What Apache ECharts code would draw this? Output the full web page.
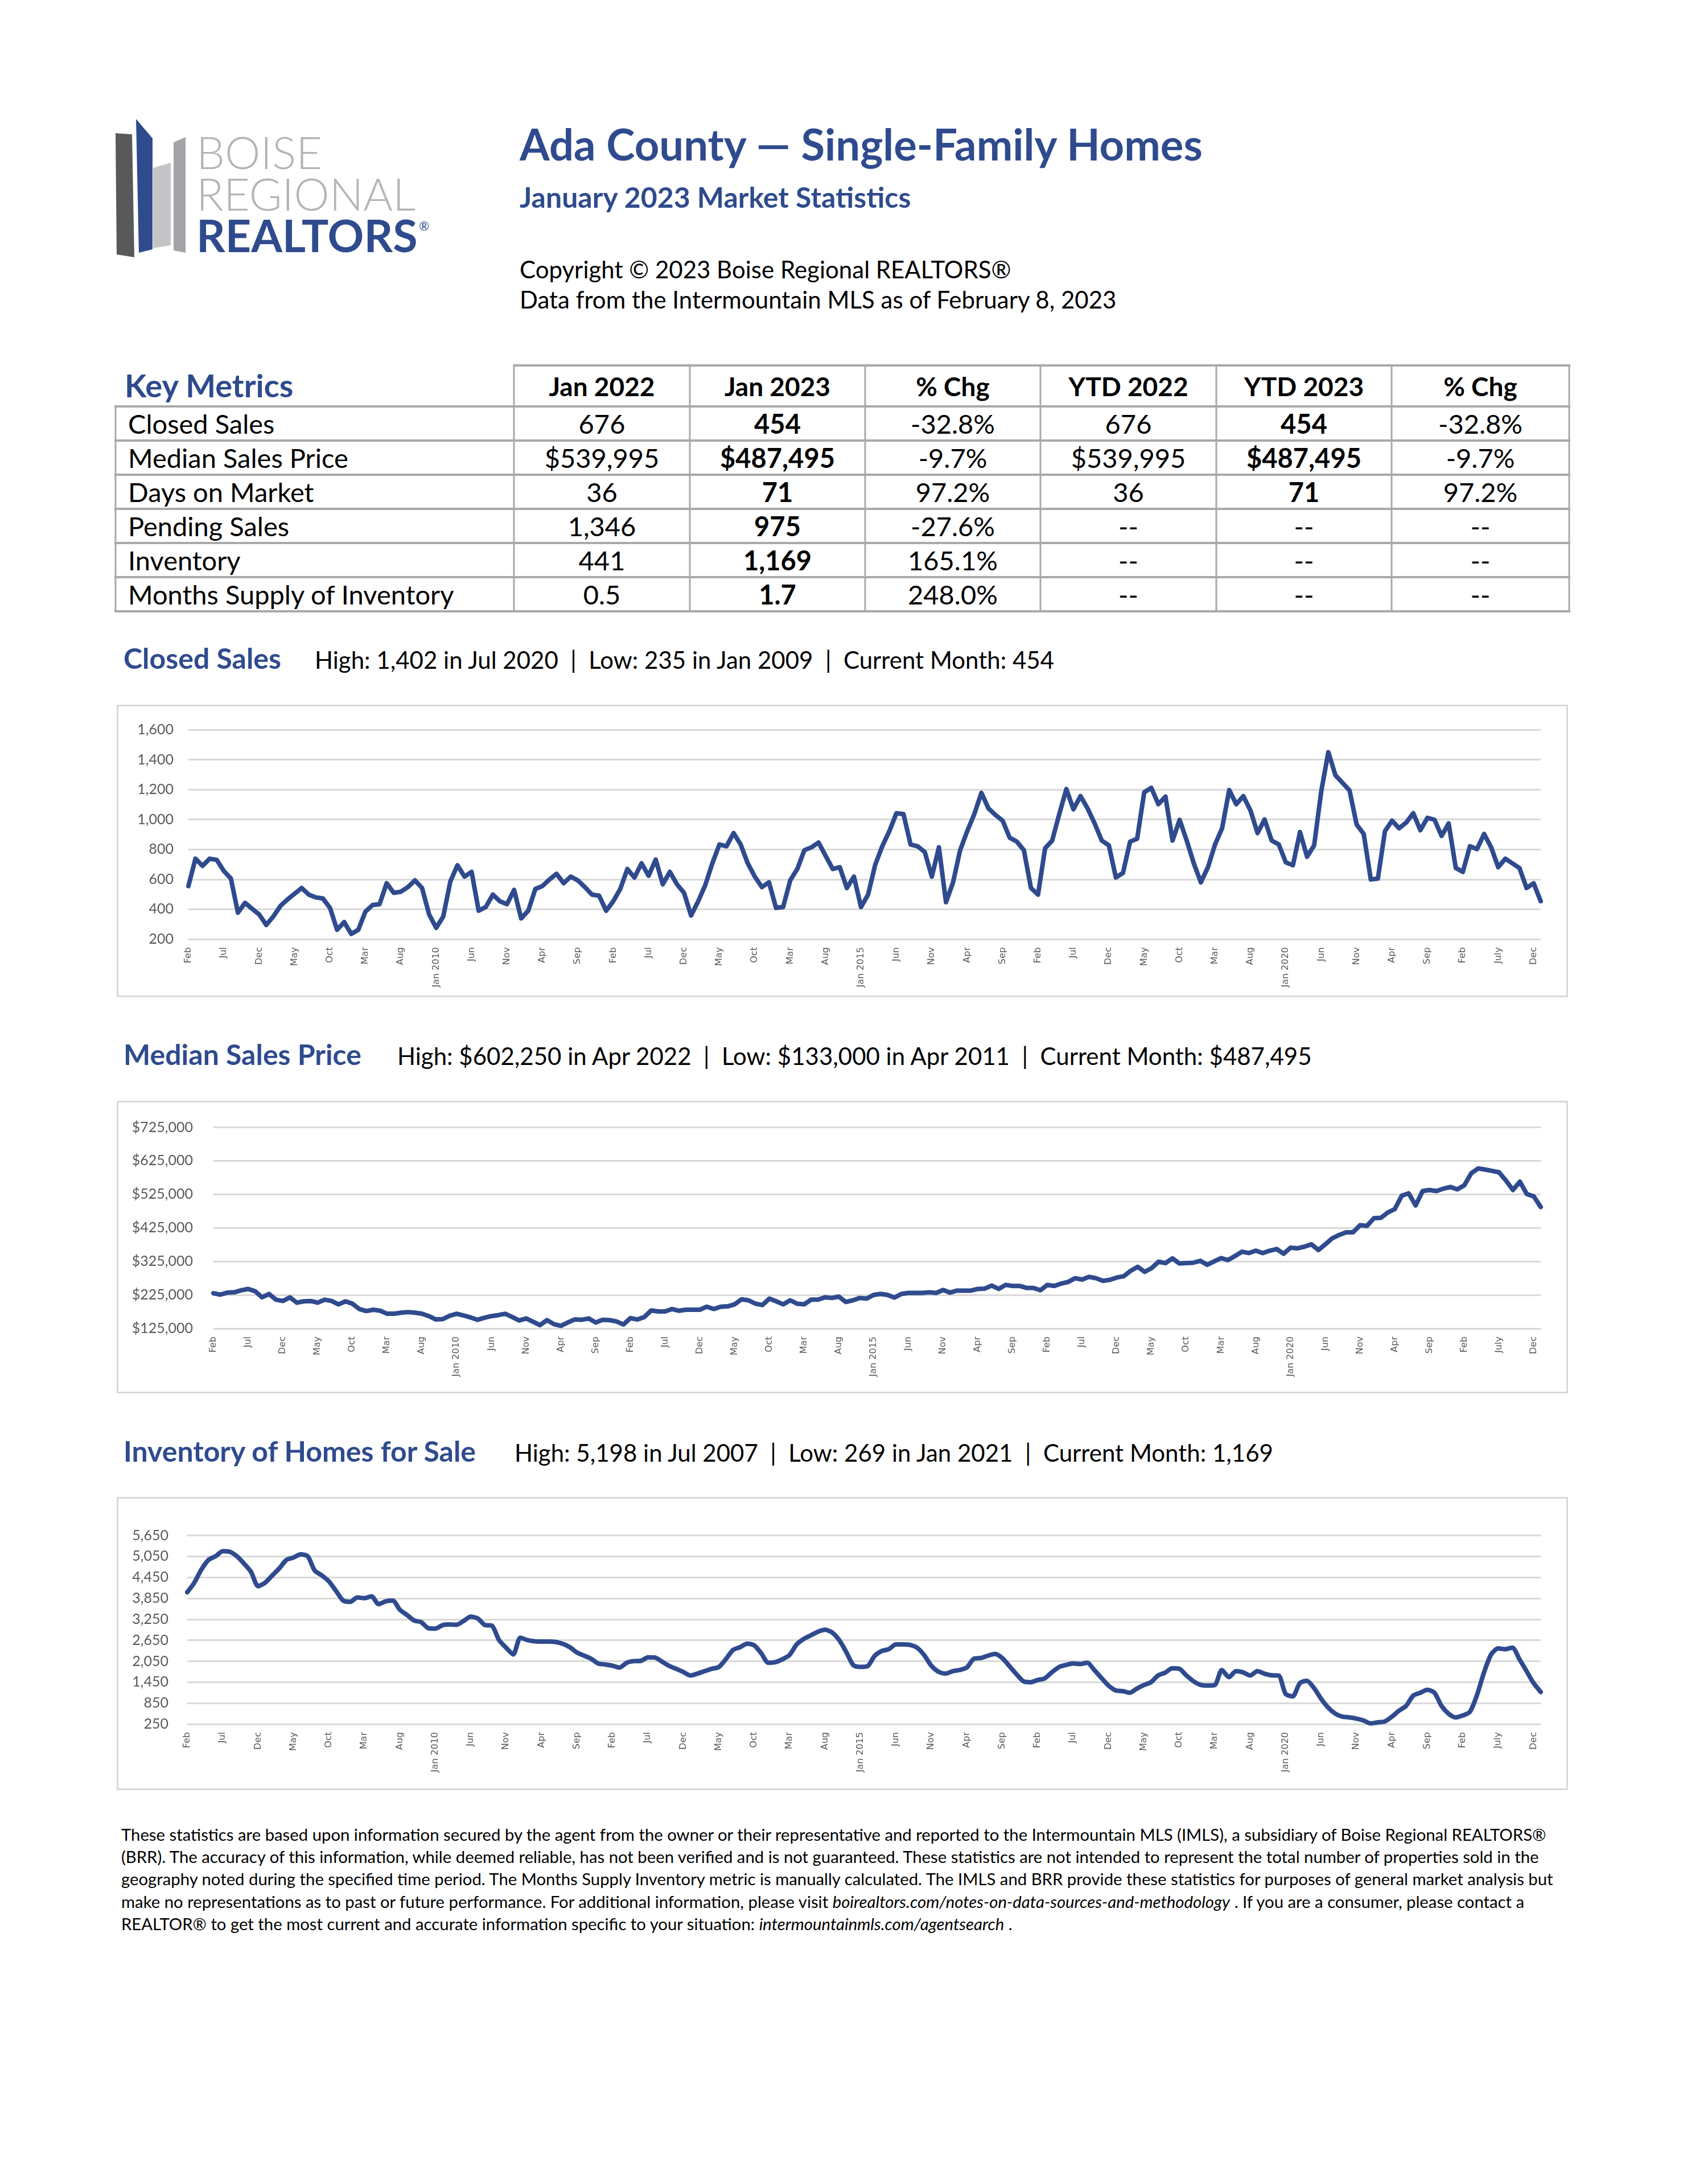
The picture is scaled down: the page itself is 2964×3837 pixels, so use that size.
<!DOCTYPE html>
<html>
<head>
<meta charset="utf-8">
<title>Ada County — Single-Family Homes, January 2023</title>
<script src="https://cdn.jsdelivr.net/npm/echarts@6/dist/echarts.min.js"></script>
<style>
  html, body { margin: 0; padding: 0; background: #fff; }
  #page { position: relative; width: 2964px; height: 3837px; overflow: hidden; font-family: Lato, sans-serif; }
  #static { position: absolute; left: 0; top: 0; }
  .chart { position: absolute; }
</style>
</head>
<body>
<div id="page">
  <svg id="static" width="2964" height="3837" xmlns="http://www.w3.org/2000/svg"></svg>
  <div id="closedChart" class="chart" style="left:208px;top:1241px;width:2544px;height:508px"></div>
  <div id="priceChart" class="chart" style="left:208px;top:1937px;width:2544px;height:508px"></div>
  <div id="inventoryChart" class="chart" style="left:208px;top:2633px;width:2544px;height:509px"></div>
</div>
<script>
// --- data (Feb 2007 .. Jan 2023, one value per month) ---
const tickLabels = ['Feb', 'Jul', 'Dec', 'May', 'Oct', 'Mar', 'Aug', 'Jan 2010', 'Jun', 'Nov', 'Apr', 'Sep',
    'Feb', 'Jul', 'Dec', 'May', 'Oct', 'Mar', 'Aug', 'Jan 2015', 'Jun', 'Nov', 'Apr', 'Sep',
    'Feb', 'Jul', 'Dec', 'May', 'Oct', 'Mar', 'Aug', 'Jan 2020', 'Jun', 'Nov', 'Apr', 'Sep',
    'Feb', 'July', 'Dec']

const closedSales = [
    555, 738, 690, 738, 730, 656, 605, 377, 443, 403, 365, 295,
    352, 422, 466, 504, 542, 498, 479, 472, 409, 263, 314, 235,
    263, 384, 428, 434, 574, 510, 517, 548, 593, 542, 365, 276,
    352, 586, 694, 618, 650, 390, 415, 498, 453, 434, 529, 339,
    390, 536, 555, 599, 637, 574, 618, 593, 548, 498, 491, 390,
    453, 536, 669, 612, 707, 624, 732, 567, 650, 567, 510, 358,
    453, 561, 707, 833, 821, 909, 833, 707, 618, 548, 580, 409,
    415, 593, 669, 795, 814, 846, 757, 669, 681, 542, 618, 415,
    498, 697, 821, 922, 1042, 1036, 833, 821, 783, 618, 814, 447,
    580, 795, 922, 1036, 1178, 1074, 1030, 992, 878, 852, 795, 542,
    498, 808, 859, 1036, 1203, 1068, 1156, 1074, 973, 859, 827, 612,
    643, 852, 871, 1182, 1211, 1102, 1153, 859, 998, 859, 707, 580,
    681, 833, 941, 1197, 1102, 1156, 1061, 909, 1000, 859, 833, 713,
    694, 916, 751, 827, 1188, 1450, 1296, 1245, 1194, 966, 903, 599,
    605, 922, 992, 941, 979, 1042, 928, 1011, 998, 890, 973, 676,
    650, 821, 802, 903, 814, 681, 738, 707, 675, 542, 574, 454
]

const medianPrice = [
    230000, 226000, 232000, 233000, 239000, 243000, 236000, 218000, 228000, 211000, 207000, 218000,
    202000, 206000, 207000, 202000, 211000, 207000, 197000, 206000, 199000, 183000, 177000, 181000,
    178000, 169000, 169000, 172000, 174000, 172000, 169000, 162000, 152000, 153000, 163000, 169000,
    164000, 158000, 151000, 157000, 162000, 165000, 169000, 159000, 149000, 155000, 145000, 135000,
    150000, 138000, 133000, 143000, 152000, 151000, 155000, 143000, 151000, 150000, 146000, 137000,
    156000, 152000, 159000, 179000, 176000, 176000, 183000, 178000, 181000, 181000, 181000, 190000,
    183000, 190000, 191000, 197000, 212000, 209000, 199000, 195000, 214000, 206000, 197000, 209000,
    199000, 197000, 211000, 211000, 218000, 216000, 220000, 204000, 209000, 216000, 214000, 225000,
    228000, 225000, 217000, 228000, 231000, 231000, 231000, 233000, 231000, 240000, 232000, 238000,
    238000, 238000, 243000, 244000, 253000, 243000, 255000, 252000, 252000, 246000, 246000, 239000,
    255000, 252000, 259000, 264000, 275000, 271000, 279000, 275000, 267000, 270000, 277000, 281000,
    297000, 309000, 294000, 305000, 324000, 320000, 334000, 319000, 320000, 321000, 327000, 315000,
    325000, 335000, 329000, 341000, 354000, 350000, 357000, 350000, 357000, 362000, 348000, 366000,
    364000, 369000, 376000, 359000, 376000, 394000, 404000, 412000, 412000, 433000, 431000, 454000,
    455000, 471000, 481000, 521000, 528000, 492000, 535000, 538000, 535000, 542000, 547000, 539995,
    552000, 588000, 602250, 599000, 595000, 591000, 566000, 538000, 563000, 526000, 519000, 487495
]

const inventory = [
    4024, 4298, 4675, 4949, 5052, 5198, 5180, 5052, 4846, 4607, 4196, 4298,
    4504, 4709, 4949, 5018, 5107, 5052, 4641, 4504, 4333, 4059, 3785, 3750,
    3874, 3853, 3908, 3682, 3764, 3785, 3524, 3374, 3216, 3168, 2997, 2983,
    3079, 3100, 3093, 3202, 3326, 3271, 3086, 3065, 2654, 2435, 2243, 2723,
    2654, 2620, 2613, 2613, 2600, 2545, 2449, 2298, 2209, 2120, 1983, 1956,
    1921, 1867, 2004, 2052, 2058, 2161, 2154, 2038, 1915, 1832, 1743, 1641,
    1695, 1764, 1832, 1880, 2106, 2367, 2449, 2552, 2504, 2278, 2004, 2024,
    2106, 2230, 2531, 2689, 2791, 2894, 2949, 2874, 2654, 2312, 1935, 1887,
    1908, 2200, 2340, 2394, 2531, 2531, 2517, 2435, 2223, 1921, 1750, 1695,
    1764, 1798, 1867, 2120, 2141, 2209, 2257, 2141, 1915, 1682, 1476, 1449,
    1510, 1558, 1730, 1880, 1942, 1983, 1969, 2004, 1798, 1572, 1353, 1216,
    1195, 1147, 1264, 1367, 1449, 1641, 1723, 1846, 1832, 1641, 1476, 1373,
    1353, 1367, 1798, 1593, 1764, 1730, 1641, 1764, 1695, 1647, 1641, 1113,
    1045, 1421, 1490, 1284, 976, 723, 551, 462, 442, 408, 353, 269,
    300, 325, 462, 634, 771, 1065, 1147, 1230, 1147, 771, 545, 441,
    497, 599, 1079, 1730, 2243, 2415, 2394, 2435, 2106, 1764, 1421, 1169
]

const tableHeaders = ['Jan 2022', 'Jan 2023', '% Chg', 'YTD 2022', 'YTD 2023', '% Chg']
const metricNames = ['Closed Sales', 'Median Sales Price', 'Days on Market', 'Pending Sales', 'Inventory', 'Months Supply of Inventory']
const metricValues = [
    ['676', '454', '-32.8%', '676', '454', '-32.8%'],
    ['$539,995', '$487,495', '-9.7%', '$539,995', '$487,495', '-9.7%'],
    ['36', '71', '97.2%', '36', '71', '97.2%'],
    ['1,346', '975', '-27.6%', '--', '--', '--'],
    ['441', '1,169', '165.1%', '--', '--', '--'],
    ['0.5', '1.7', '248.0%', '--', '--', '--']
]

const chartTitles = ['Closed Sales', 'Median Sales Price', 'Inventory of Homes for Sale']
const chartStats = [
    'High: 1,402 in Jul 2020  |  Low: 235 in Jan 2009  |  Current Month: 454',
    'High: $602,250 in Apr 2022  |  Low: $133,000 in Apr 2011  |  Current Month: $487,495',
    'High: 5,198 in Jul 2007  |  Low: 269 in Jan 2021  |  Current Month: 1,169'
]

const footerLines = [
    'These statistics are based upon information secured by the agent from the owner or their representative and reported to the Intermountain MLS (IMLS), a subsidiary of Boise Regional REALTORS®',
    '(BRR). The accuracy of this information, while deemed reliable, has not been verified and is not guaranteed. These statistics are not intended to represent the total number of properties sold in the',
    'geography noted during the specified time period. The Months Supply Inventory metric is manually calculated. The IMLS and BRR provide these statistics for purposes of general market analysis but',
    'make no representations as to past or future performance. For additional information, please visit [boirealtors.com/notes-on-data-sources-and-methodology] . If you are a consumer, please contact a',
    'REALTOR® to get the most current and accurate information specific to your situation: [intermountainmls.com/agentsearch] .'
]

const BLUE = '#2f4b8e'
const monthNames = ['Jan', 'Feb', 'Mar', 'Apr', 'May', 'Jun', 'Jul', 'Aug', 'Sep', 'Oct', 'Nov', 'Dec']
const months = closedSales.map((_, i) => monthNames[(i + 1) % 12] + ' ' + (2007 + Math.floor((i + 1) / 12)))

// --- static page: logo, headings, table, footer ---
function txt(x, y, str, size, o = {}) {
    return `<text x="${x}" y="${y}" font-family="Lato, sans-serif" font-size="${size}" font-weight="${o.w || 400}"` +
        ` fill="${o.c || '#000'}" text-anchor="${o.a || 'start'}" style="white-space:pre">${str}</text>`
}

function buildStatic() {
    let s = ''
    // logo bars
    s += '<polygon points="203,234 232,236 236,452 205,447" fill="#58595b"/>'
    s += '<polygon points="239,209 268,243 268,438 244,444" fill="' + BLUE + '"/>'
    s += '<polygon points="269,295 300,286 300,431 269,436" fill="#c3c4c6"/>'
    s += '<polygon points="305,250 326,241 326,444 305,440" fill="#a2a4a7"/>'
    s += txt(345, 297, 'BOISE', 79, { w: 300, c: '#b3b4b7' })
    s += txt(345, 370, 'REGIONAL', 79, { w: 300, c: '#b3b4b7' })
    s += txt(345, 443, 'REALTORS', 79, { w: 700, c: BLUE })
    s += txt(736, 405, '®', 22, { c: BLUE })

    // headings
    s += txt(913, 282, 'Ada County — Single-Family Homes', 76, { w: 700, c: BLUE })
    s += txt(913, 365, 'January 2023 Market Statistics', 50, { w: 700, c: BLUE })
    s += txt(913, 489, 'Copyright © 2023 Boise Regional REALTORS®', 42)
    s += txt(913, 542, 'Data from the Intermountain MLS as of February 8, 2023', 42)

    // table
    const colX = [903, 1212, 1520, 1828, 2137, 2445, 2757]
    const rowY = [714, 774, 834, 894, 954, 1014, 1074]
    const line = '#a9a9a9'
    s += txt(219, 698, 'Key Metrics', 56, { w: 700, c: BLUE })
    tableHeaders.forEach((h, j) => {
        s += txt((colX[j] + colX[j + 1]) / 2, 696, h, 46, { w: 700, a: 'middle' })
    })
    metricNames.forEach((name, i) => {
        const base = rowY[i] + 48
        s += txt(225, base, name, 47)
        metricValues[i].forEach((v, j) => {
            const bold = (j === 1 || j === 4) && v !== '--'
            s += txt((colX[j] + colX[j + 1]) / 2, base, v, 47, { w: bold ? 700 : 400, a: 'middle' })
        })
    })
    s += `<line x1="903" y1="642" x2="2759" y2="642" stroke="${line}" stroke-width="4"/>`
    rowY.forEach(y => {
        s += `<line x1="201" y1="${y}" x2="2759" y2="${y}" stroke="${line}" stroke-width="4"/>`
    })
    s += `<line x1="203" y1="712" x2="203" y2="1076" stroke="${line}" stroke-width="3"/>`
    colX.forEach(x => {
        s += `<line x1="${x}" y1="640" x2="${x}" y2="1076" stroke="${line}" stroke-width="3"/>`
    })

    // chart headings and frames
    const headBase = [1175, 1871, 2568]
    const statX = [553, 698, 904]
    const frameTop = [1238, 1934, 2630]
    const frameBottom = [1752, 2448, 3145]
    chartTitles.forEach((t, i) => {
        s += txt(217, headBase[i], t, 50, { w: 700, c: BLUE })
        s += txt(statX[i], headBase[i], chartStats[i], 42)
        s += `<rect x="206.5" y="${frameTop[i] + 1.5}" width="2547" height="${frameBottom[i] - frameTop[i] - 3}" fill="none" stroke="#d9d9d9" stroke-width="3"/>`
    })

    // footer
    footerLines.forEach((l, i) => {
        const body = l.replace(/\[(.*?)\]/g, '<tspan font-style="italic">$1</tspan>')
        s += `<text x="213" y="${3234 + i * 39.2}" font-family="Lato, sans-serif" font-size="29.3" fill="#000" style="white-space:pre">${body}</text>`
    })
    document.getElementById('static').innerHTML = s
}

// --- charts ---
function buildOption(values, cfg) {
    return {
        animation: false,
        grid: cfg.grid,
        xAxis: {
            type: 'category',
            boundaryGap: false,
            data: months,
            axisLine: { show: false },
            axisTick: { show: false },
            axisLabel: {
                interval: 4,
                rotate: 90,
                margin: 14,
                fontSize: 16,
                fontFamily: 'DejaVu Sans',
                color: '#595959',
                formatter: (v, i) => tickLabels[i / 5] || ''
            }
        },
        yAxis: {
            type: 'value',
            min: cfg.min,
            max: cfg.max,
            interval: cfg.step,
            axisLine: { show: false },
            axisTick: { show: false },
            splitLine: { lineStyle: { color: '#d9d9d9', width: 3 } },
            axisLabel: {
                margin: cfg.labelMargin,
                fontSize: 25,
                fontFamily: 'Lato',
                color: '#595959',
                formatter: cfg.fmt
            }
        },
        series: [{
            type: 'line',
            data: values,
            symbol: 'none',
            smooth: cfg.smooth || false,
            lineStyle: { color: BLUE, width: 8, join: 'round', cap: 'round' }
        }]
    }
}

const fmtNum = v => v.toLocaleString('en-US')
const fmtMoney = v => '$' + v.toLocaleString('en-US')

function render() {
    buildStatic()
    const closed = echarts.init(document.getElementById('closedChart'))
    closed.setOption(buildOption(closedSales, {
        grid: { left: 123, right: 45, top: 41, height: 368 },
        min: 200, max: 1600, step: 200, labelMargin: 26, fmt: fmtNum
    }))
    const price = echarts.init(document.getElementById('priceChart'))
    price.setOption(buildOption(medianPrice, {
        grid: { left: 167, right: 45, top: 43.5, height: 353.5 },
        min: 125000, max: 725000, step: 100000, labelMargin: 36, fmt: fmtMoney
    }))
    const inv = echarts.init(document.getElementById('inventoryChart'))
    inv.setOption(buildOption(inventory, {
        grid: { left: 121, right: 45, top: 64.5, height: 331.5 },
        min: 250, max: 5650, step: 600, labelMargin: 33, fmt: fmtNum, smooth: 0.25
    }))
}

render()
</script>
</body>
</html>
